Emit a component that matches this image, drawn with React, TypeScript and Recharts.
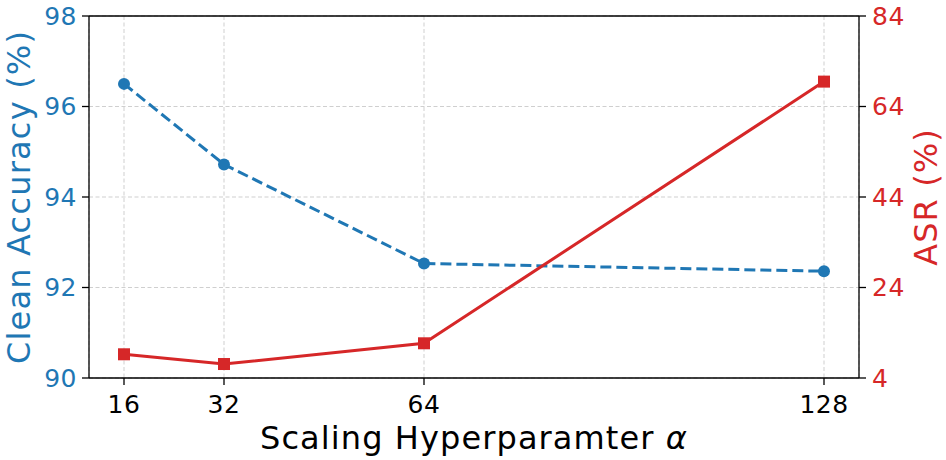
import React from 'react';
import { LineChart, Line, XAxis, YAxis, CartesianGrid, ReferenceLine } from 'recharts';

const alphaValues = [16, 32, 64, 128];
const cleanAccuracy = [96.5, 94.72, 92.53, 92.36];
const asrValues = [9.24, 7.09, 11.67, 69.5];
const xTicks = [16, 32, 64, 128];
const leftTicks = [90, 92, 94, 96, 98];
const rightTicks = [4, 24, 44, 64, 84];

const BLUE = '#1f77b4';
const RED = '#d62728';
const FONT = '"DejaVu Sans", sans-serif';

const data = alphaValues.map((a, i) => ({ alpha: a, acc: cleanAccuracy[i], asr: asrValues[i] }));

const SquareDot = (props: any) => {
  const { cx, cy, index } = props;
  if (cx == null || cy == null) return <g key={`sq-${index}`} />;
  return <rect key={`sq-${index}`} x={cx - 6} y={cy - 6} width={12} height={12} fill={RED} />;
};

const CircleDot = (props: any) => {
  const { cx, cy, index } = props;
  if (cx == null || cy == null) return <g key={`c-${index}`} />;
  return <circle key={`c-${index}`} cx={cx} cy={cy} r={6} fill={BLUE} />;
};

const XLabel = (p: any) => {
  const vb = p.viewBox;
  const x = vb.x + vb.width / 2;
  const y = vb.y + vb.height - 10.7;
  return (
    <text x={x} y={y} textAnchor="middle" fontSize={32} letterSpacing={1.1} fontFamily={FONT} fill="#000">
      Scaling Hyperparamter <tspan fontStyle="italic">α</tspan>
    </text>
  );
};

const LeftLabel = (p: any) => {
  const vb = p.viewBox;
  const x = vb.x + 30;
  const y = vb.y + vb.height / 2;
  return (
    <text x={x} y={y} textAnchor="middle" fontSize={32} letterSpacing={1.2} fontFamily={FONT} fill={BLUE} transform={`rotate(-90 ${x} ${y})`}>
      Clean Accuracy (%)
    </text>
  );
};

const RightLabel = (p: any) => {
  const vb = p.viewBox;
  const x = vb.x + 77.7;
  const y = vb.y + vb.height / 2;
  return (
    <text x={x} y={y} textAnchor="middle" fontSize={32} letterSpacing={1.1} fontFamily={FONT} fill={RED} transform={`rotate(-90 ${x} ${y})`}>
      ASR (%)
    </text>
  );
};

export default function App() {
  return (
    <div style={{ position: 'absolute', left: 0, top: 0, background: '#fff' }}>
      <LineChart width={946} height={460} data={data} margin={{ top: 16, right: 0, bottom: 0, left: 0 }}>
        <CartesianGrid yAxisId="left" stroke="#cfcfcf" strokeDasharray="4 2.5" strokeWidth={1} />
        <XAxis
          dataKey="alpha"
          type="number"
          domain={[10.4, 133.6]}
          allowDataOverflow
          ticks={xTicks}
          height={82}
          tickSize={7}
          tickMargin={10}
          stroke="#000"
          strokeWidth={1.3}
          tick={{ fill: '#000', fontSize: 25, fontFamily: FONT, letterSpacing: 0.5 }}
          label={{ content: XLabel }}
        />
        <YAxis
          yAxisId="left"
          orientation="left"
          domain={[90, 98]}
          allowDataOverflow
          ticks={leftTicks}
          width={89}
          tickSize={7}
          tickMargin={5}
          stroke="#000"
          strokeWidth={1.3}
          tick={{ fill: BLUE, fontSize: 25, fontFamily: FONT, letterSpacing: 0.5 }}
          label={{ content: LeftLabel }}
        />
        <YAxis
          yAxisId="right"
          orientation="right"
          domain={[4, 84]}
          allowDataOverflow
          ticks={rightTicks}
          width={87}
          tickSize={7}
          tickMargin={6}
          stroke="#000"
          strokeWidth={1.3}
          tick={{ fill: RED, fontSize: 25, fontFamily: FONT, letterSpacing: 0.5 }}
          label={{ content: RightLabel }}
        />
        <ReferenceLine yAxisId="left" y={98} stroke="#000" strokeWidth={1.3} />
        <Line
          yAxisId="left"
          dataKey="acc"
          stroke={BLUE}
          strokeWidth={3}
          strokeDasharray="11 5"
          dot={CircleDot}
          activeDot={false}
          isAnimationActive={false}
        />
        <Line
          yAxisId="right"
          dataKey="asr"
          stroke={RED}
          strokeWidth={3}
          dot={SquareDot}
          activeDot={false}
          isAnimationActive={false}
        />
      </LineChart>
    </div>
  );
}
